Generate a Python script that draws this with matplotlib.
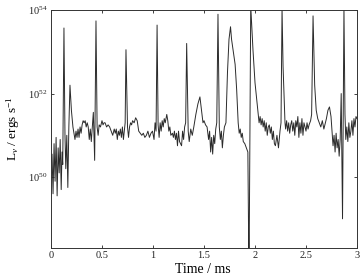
import matplotlib
matplotlib.use("Agg")
import matplotlib.pyplot as plt
import numpy as np

plt.rcParams['font.family'] = ['Liberation Serif', 'DejaVu Serif']
plt.rcParams['mathtext.fontset'] = 'custom'
plt.rcParams['mathtext.rm'] = 'Liberation Serif'
plt.rcParams['mathtext.it'] = 'Liberation Serif:italic'

# time in ms, luminosity as log10(L / erg s^-1)
time_ms = [
    0.000, 0.010, 0.020, 0.030, 0.040, 0.050, 0.060, 0.070, 0.080, 0.090,
    0.100, 0.108, 0.115, 0.127, 0.137, 0.145, 0.155, 0.165, 0.175, 0.186,
    0.200, 0.215, 0.235, 0.245, 0.255, 0.265, 0.275, 0.285, 0.295, 0.305,
    0.315, 0.325, 0.335, 0.345, 0.355, 0.365, 0.375, 0.385, 0.395, 0.405,
    0.415, 0.428, 0.441, 0.452, 0.462, 0.472, 0.485, 0.500, 0.510, 0.520,
    0.530, 0.545, 0.560, 0.575, 0.590, 0.605, 0.620, 0.630, 0.640, 0.650,
    0.660, 0.670, 0.680, 0.690, 0.700, 0.710, 0.720, 0.727, 0.735, 0.750,
    0.760, 0.770, 0.780, 0.790, 0.800, 0.815, 0.830, 0.845, 0.860, 0.875,
    0.890, 0.905, 0.920, 0.935, 0.950, 0.965, 0.980, 0.995, 1.010, 1.020,
    1.030, 1.040, 1.050, 1.060, 1.070, 1.080, 1.090, 1.100, 1.110, 1.120,
    1.135, 1.145, 1.155, 1.165, 1.175, 1.190, 1.200, 1.210, 1.220, 1.230,
    1.240, 1.250, 1.260, 1.280, 1.290, 1.300, 1.310, 1.320, 1.330, 1.345,
    1.355, 1.370, 1.385, 1.400, 1.420, 1.440, 1.460, 1.475, 1.490, 1.500,
    1.515, 1.530, 1.545, 1.555, 1.565, 1.575, 1.585, 1.595, 1.605, 1.615,
    1.625, 1.637, 1.650, 1.660, 1.670, 1.680, 1.690, 1.700, 1.715, 1.730,
    1.745, 1.760, 1.770, 1.790, 1.805, 1.820, 1.835, 1.845, 1.855, 1.865,
    1.875, 1.885, 1.900, 1.915, 1.930, 1.941, 1.958, 1.980, 2.000, 2.030,
    2.040, 2.050, 2.060, 2.070, 2.080, 2.090, 2.100, 2.110, 2.120, 2.130,
    2.140, 2.150, 2.160, 2.170, 2.180, 2.190, 2.200, 2.215, 2.230, 2.245,
    2.255, 2.265, 2.275, 2.294, 2.300, 2.310, 2.320, 2.330, 2.340, 2.350,
    2.360, 2.370, 2.380, 2.390, 2.400, 2.410, 2.420, 2.430, 2.440, 2.450,
    2.460, 2.470, 2.480, 2.490, 2.500, 2.510, 2.520, 2.530, 2.545, 2.555,
    2.569, 2.585, 2.600, 2.615, 2.630, 2.645, 2.660, 2.675, 2.690, 2.700,
    2.715, 2.730, 2.745, 2.755, 2.765, 2.775, 2.785, 2.795, 2.805, 2.815,
    2.825, 2.835, 2.845, 2.852, 2.858, 2.872, 2.882, 2.890, 2.900, 2.910,
    2.920, 2.930, 2.940, 2.950, 2.960, 2.970, 2.980, 2.990, 3.000,
]
log_lum = [
    50.35, 50.55, 49.60, 50.80, 49.90, 50.95, 49.55, 50.70, 50.10, 50.90,
    49.70, 50.60, 50.30, 53.57, 51.00, 50.20, 51.00, 49.75, 51.20, 52.20,
    51.60, 51.20, 50.90, 51.10, 50.95, 51.15, 50.95, 51.20, 51.05, 51.25,
    51.35, 51.30, 51.35, 51.20, 51.30, 51.20, 50.90, 51.15, 50.85, 51.20,
    51.55, 50.40, 53.74, 51.20, 51.00, 51.25, 51.20, 51.35, 51.25, 51.30,
    51.30, 51.20, 51.25, 51.20, 51.10, 51.00, 51.15, 51.05, 51.15, 50.90,
    51.10, 51.00, 51.15, 50.95, 51.20, 50.90, 51.15, 51.30, 53.05, 51.20,
    50.95, 51.20, 51.30, 51.25, 51.35, 51.30, 51.42, 51.35, 51.10, 51.05,
    51.00, 51.05, 50.95, 51.00, 51.10, 50.95, 51.05, 51.10, 50.90, 51.30,
    51.10, 53.64, 51.25, 50.95, 51.30, 51.10, 51.35, 51.20, 51.40, 51.30,
    51.50, 51.35, 51.10, 51.20, 51.00, 51.05, 50.95, 51.10, 50.90, 51.05,
    50.75, 51.10, 50.85, 50.75, 51.10, 50.90, 51.20, 51.30, 53.20, 51.10,
    50.85, 51.15, 51.00, 51.20, 51.50, 51.75, 51.92, 51.60, 51.30, 51.35,
    51.25, 51.20, 50.90, 51.10, 50.60, 50.95, 50.55, 51.00, 50.80, 51.15,
    51.30, 53.90, 51.20, 50.90, 51.10, 50.70, 51.00, 51.20, 51.30, 52.50,
    53.30, 53.60, 53.30, 52.95, 52.70, 52.10, 51.30, 51.05, 51.15, 50.95,
    51.05, 50.85, 50.80, 50.70, 50.60, 47.50, 54.10, 53.05, 52.26, 51.54,
    51.30, 51.45, 51.25, 51.40, 51.20, 51.35, 51.10, 51.30, 51.00, 51.20,
    51.25, 51.05, 51.20, 50.90, 51.10, 50.80, 50.75, 51.00, 50.70, 51.10,
    51.30, 54.05, 52.65, 51.30, 51.15, 51.35, 51.10, 51.30, 51.05, 51.25,
    51.35, 51.10, 51.30, 51.00, 51.35, 51.20, 51.45, 50.95, 51.30, 51.05,
    51.40, 51.00, 51.30, 51.20, 51.10, 51.30, 51.15, 51.25, 51.35, 51.50,
    53.86, 52.20, 51.60, 51.40, 51.30, 51.20, 51.35, 51.15, 51.30, 51.40,
    51.60, 51.68, 51.45, 51.10, 50.75, 51.00, 50.60, 51.05, 50.70, 50.90,
    50.50, 50.90, 52.00, 50.40, 49.00, 54.05, 51.50, 50.90, 51.20, 50.85,
    51.30, 50.95, 51.10, 51.35, 51.00, 51.40, 51.20, 51.45, 51.40,
]

x_ticks = [0, 0.5, 1, 1.5, 2, 2.5, 3]
x_tick_labels = ['0', '0.5', '1', '1.5', '2', '2.5', '3']
y_ticks = [1e50, 1e52, 1e54]
y_tick_labels = [r'$10^{50}$', r'$10^{52}$', r'$10^{54}$']

fig = plt.figure(figsize=(3.63, 2.77), dpi=100)
ax = fig.add_axes([0.1405, 0.1047, 0.843, 0.859])

lum = 10.0 ** np.array(log_lum)
ax.plot(time_ms, lum, color='#2b2b2b', lw=0.7)

ax.set_yscale('log')
ax.set_xlim(0, 3)
ax.set_ylim(2e48, 1e54)
ax.set_xticks(x_ticks)
ax.set_xticklabels(x_tick_labels)
ax.set_yticks(y_ticks)
ax.set_yticklabels(y_tick_labels)
ax.minorticks_off()
ax.tick_params(direction='in', top=True, right=True, length=2.5, width=0.6,
               labelsize=7.5, pad=2.5, colors='#222222')
for sp in ax.spines.values():
    sp.set_linewidth(0.7)
    sp.set_color('#333333')

ax.set_xlabel('Time / ms', fontsize=10)
ax.xaxis.set_label_coords(0.495, -0.065)
ax.set_ylabel(r'L$_{\nu}$ / ergs s$^{-1}$', fontsize=9.5)
ax.yaxis.set_label_coords(-0.095, 0.5)

fig.savefig('out.png', dpi=100)
